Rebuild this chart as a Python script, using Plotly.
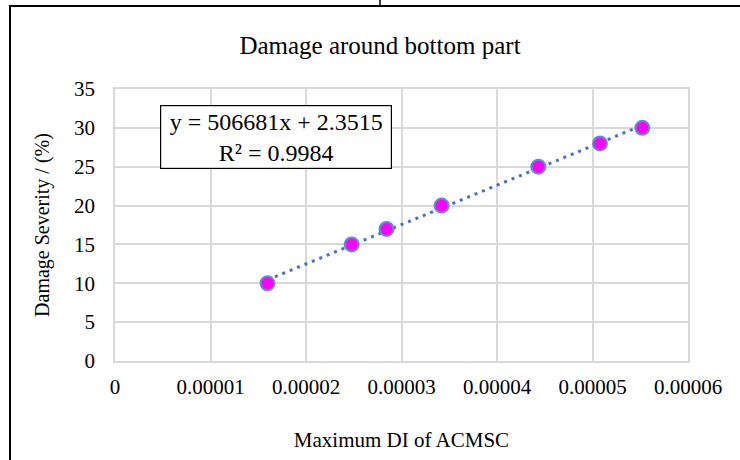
import numpy as np
import plotly.graph_objects as go

# Data
max_di = [1.597e-5, 2.478e-5, 2.843e-5, 3.420e-5, 4.433e-5, 5.078e-5, 5.522e-5]
severity = [10, 15, 17, 20, 25, 28, 30]
slope = 506681
intercept = 2.3515
r2 = 0.9984
x_ticks = [0, 0.00001, 0.00002, 0.00003, 0.00004, 0.00005, 0.00006]
x_tick_labels = ["0", "0.00001", "0.00002", "0.00003", "0.00004", "0.00005", "0.00006"]
y_ticks = [0, 5, 10, 15, 20, 25, 30, 35]

FONT = "Liberation Serif, Times New Roman, serif"

# layout geometry (pixels)
W, H = 740, 460
L, R, T, B = 115, 688, 89, 361
pw, ph = R - L, B - T

def px(xp):
    return (xp - L) / pw

def py(yp):
    return (B - yp) / ph

trend_x = np.array([min(max_di), max(max_di)])
trend_y = slope * trend_x + intercept

fig = go.Figure()
fig.add_trace(go.Scatter(
    x=trend_x, y=trend_y, mode="lines",
    line=dict(color="#4472C4", width=3, dash="3px,5px"),
    hoverinfo="skip", showlegend=False,
))
fig.add_trace(go.Scatter(
    x=max_di, y=severity, mode="markers",
    marker=dict(size=14, color="#FF00FF", line=dict(color="#5B8FD0", width=2)),
    showlegend=False,
))

grid = "#D9D9D9"
fig.update_xaxes(
    range=[0, 0.00006], tickvals=x_ticks, ticktext=x_tick_labels,
    showgrid=True, gridcolor=grid, gridwidth=1.5,
    showline=True, linecolor=grid, linewidth=1.5, mirror=True,
    zeroline=False, ticks="outside", ticklen=6, tickcolor="rgba(0,0,0,0)",
    tickfont=dict(family=FONT, size=21, color="#000"),
    title=dict(text="Maximum DI of ACMSC", font=dict(family=FONT, size=21, color="#000"), standoff=34),
)
fig.update_yaxes(
    range=[0, 35], tickvals=y_ticks,
    showgrid=True, gridcolor=grid, gridwidth=1.5,
    showline=True, linecolor=grid, linewidth=1.5, mirror=True,
    zeroline=False, ticks="outside", ticklen=14, tickcolor="rgba(0,0,0,0)",
    tickfont=dict(family=FONT, size=21, color="#000"),
    title=dict(text="Damage Severity / (%)", font=dict(family=FONT, size=20, color="#000"), standoff=19),
)

shapes = [
    # outer table frame lines
    dict(type="line", xref="paper", yref="paper", x0=px(9), x1=px(740), y0=py(6), y1=py(6),
         line=dict(color="#000", width=2)),
    dict(type="line", xref="paper", yref="paper", x0=px(10), x1=px(10), y0=py(6), y1=py(460),
         line=dict(color="#000", width=2)),
    dict(type="line", xref="paper", yref="paper", x0=px(380), x1=px(380), y0=py(0), y1=py(6),
         line=dict(color="#000", width=1.5)),
]

annotations = [
    dict(text=f"y = {slope}x + {intercept}<br>R² = {r2}", xref="paper", yref="paper",
         x=px(275.5), y=py(136.5), xanchor="center", yanchor="middle", showarrow=False,
         font=dict(family=FONT, size=24, color="#000"), align="center",
         bordercolor="#000", borderwidth=1.2, borderpad=3, bgcolor="#FFFFFF",
         width=224, height=56),
]

fig.update_layout(
    width=W, height=H,
    margin=dict(l=L, r=W - R, t=T, b=H - B, pad=0),
    paper_bgcolor="#FFFFFF", plot_bgcolor="#FFFFFF",
    title=dict(text="Damage around bottom part", x=(380) / W, xanchor="center",
               y=1 - 45 / H, yanchor="middle",
               font=dict(family=FONT, size=25, color="#000")),
    shapes=shapes, annotations=annotations,
)

fig.write_html("out.html", config={"displayModeBar": False},
               post_script="document.body.style.margin='0';document.body.style.overflow='hidden';")
